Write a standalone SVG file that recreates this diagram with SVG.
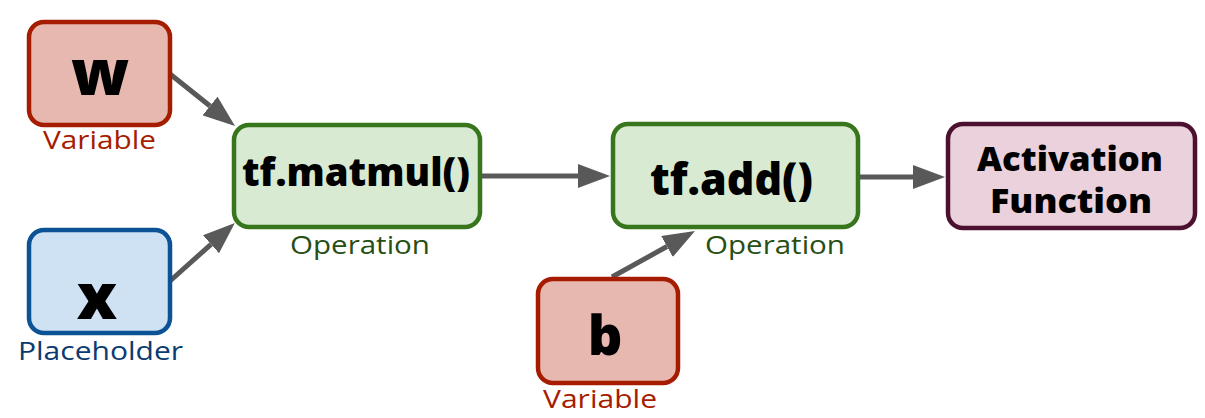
<svg xmlns="http://www.w3.org/2000/svg" width="1205" height="418" viewBox="0 0 1205 418">
<defs>
<style>
.box{stroke-width:4.5}
.var{fill:#e6b8af;stroke:#a61c00}
.ph{fill:#cfe2f3;stroke:#0b5394}
.op{fill:#d9ead3;stroke:#38761d}
.act{fill:#ead1dc;stroke:#4c1130}
.big{font-family:"Open Sans","Noto Sans",sans-serif;font-weight:800;fill:#000;text-anchor:middle}
.lbl{font-family:"Open Sans","Noto Sans",sans-serif;font-size:26px;text-anchor:middle}
.conn{stroke:#595959;stroke-width:5;fill:none}
</style>
<marker id="ah" markerUnits="userSpaceOnUse" markerWidth="32" markerHeight="24" refX="0" refY="12" orient="auto">
<path d="M0,0 L32,12 L0,24 Z" fill="#595959"/>
</marker>
</defs>
<rect width="1205" height="418" fill="#fff"/>
<g id="connectors">
<line class="conn" x1="170" y1="74" x2="210" y2="106" marker-end="url(#ah)"/>
<line class="conn" x1="170" y1="281" x2="211" y2="244.3" marker-end="url(#ah)"/>
<line class="conn" x1="480" y1="176" x2="578" y2="176" marker-end="url(#ah)"/>
<line class="conn" x1="858" y1="177" x2="913" y2="177" marker-end="url(#ah)"/>
<line class="conn" x1="612" y1="277" x2="667" y2="246.5" marker-end="url(#ah)"/>
</g>
<g id="node-w">
<rect class="box var" x="29" y="22" width="141" height="103" rx="15"/>
<text class="big" x="100" y="95" font-size="64">w</text>
<text class="lbl" x="99.5" y="149" fill="#a61c00" textLength="113" lengthAdjust="spacingAndGlyphs">Variable</text>
</g>
<g id="node-x">
<rect class="box ph" x="29" y="230" width="141" height="103" rx="15"/>
<text class="big" x="97" y="319" font-size="64">x</text>
<text class="lbl" x="100.5" y="360" fill="#0b3b70" textLength="165" lengthAdjust="spacingAndGlyphs">Placeholder</text>
</g>
<g id="node-matmul">
<rect class="box op" x="234" y="125" width="246" height="102" rx="15"/>
<text class="big" x="356" y="186" font-size="38" textLength="228" lengthAdjust="spacingAndGlyphs">tf.matmul()</text>
<text class="lbl" x="360" y="254" fill="#274e13" textLength="140" lengthAdjust="spacingAndGlyphs">Operation</text>
</g>
<g id="node-add">
<rect class="box op" x="613" y="124" width="245" height="103" rx="15"/>
<text class="big" x="731.5" y="195" font-size="44" textLength="163" lengthAdjust="spacingAndGlyphs">tf.add()</text>
<text class="lbl" x="775" y="254" fill="#274e13" textLength="140" lengthAdjust="spacingAndGlyphs">Operation</text>
</g>
<g id="node-b">
<rect class="box var" x="538" y="279" width="140" height="104" rx="15"/>
<text class="big" x="605" y="355" font-size="54">b</text>
<text class="lbl" x="600" y="408" fill="#a61c00" textLength="114" lengthAdjust="spacingAndGlyphs">Variable</text>
</g>
<g id="node-activation">
<rect class="box act" x="948" y="124" width="247" height="104" rx="15"/>
<text class="big" x="1070" y="171" font-size="33" textLength="186" lengthAdjust="spacingAndGlyphs">Activation</text>
<text class="big" x="1071" y="213" font-size="33" textLength="162" lengthAdjust="spacingAndGlyphs">Function</text>
</g>
</svg>
